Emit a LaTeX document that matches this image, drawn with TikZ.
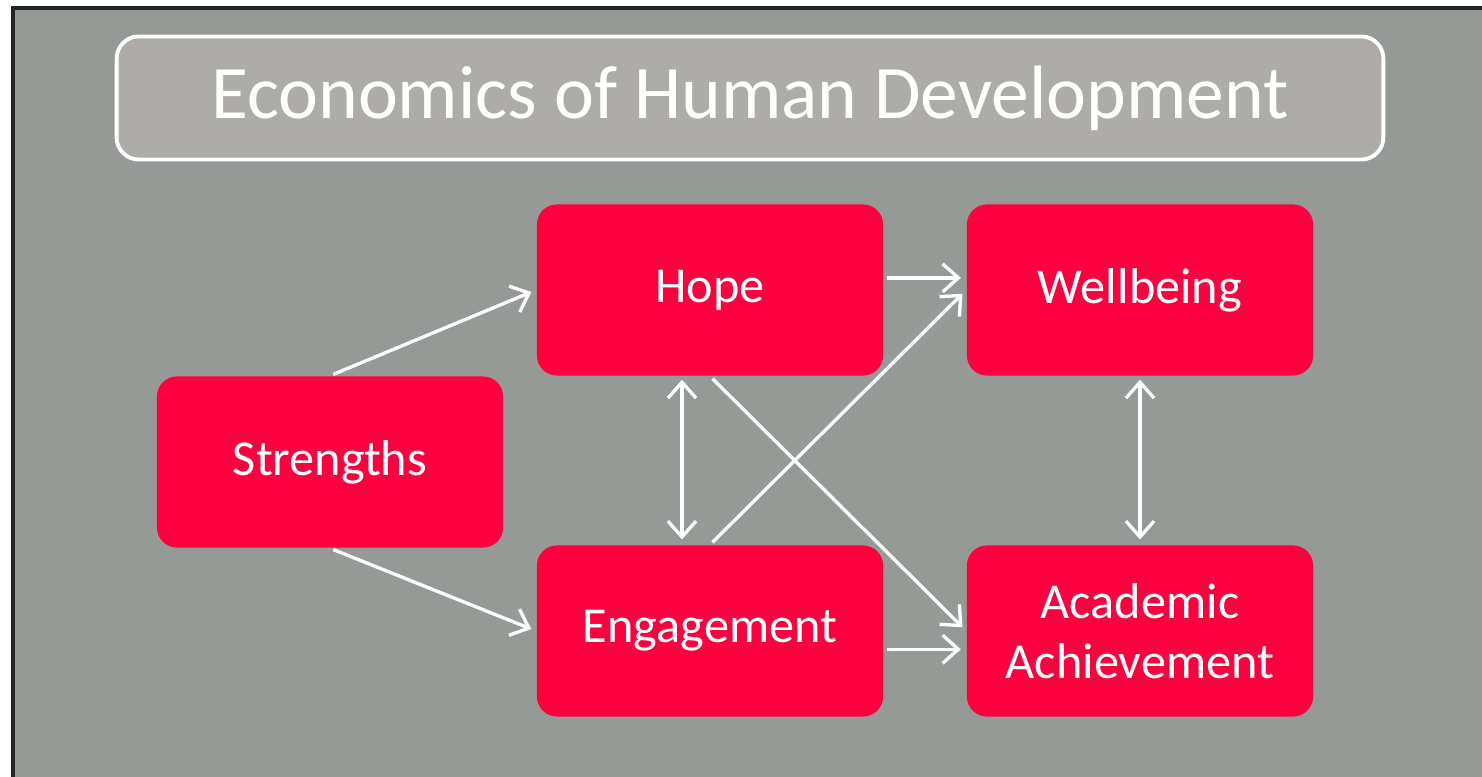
\documentclass[tikz,border=0pt]{standalone}
\usepackage{fontspec}
\setmainfont{Carlito}
\usetikzlibrary{
  arrows.meta,
  positioning
}
\usepackage{xcolor}
\definecolor{slateGray}{RGB}{150,154,151}
\definecolor{titleGray}{RGB}{174,172,168}
\definecolor{hotRed}{RGB}{255,0,62}
\definecolor{frameDark}{RGB}{35,37,36}
\tikzset{
  box/.style={
    fill=hotRed,
    draw=none,
    rounded corners=0.2cm,
    minimum width=3.46cm,
    minimum height=1.71cm,
    align=center,
    text=white,
    font=\fontsize{14.3}{17}\selectfont
  },
  link/.style={
    draw=white,
    line width=0.95pt,
    shorten >=1.5pt,
    shorten <=1pt
  }
}

\begin{document}
\begin{tikzpicture}[
      x=0.01cm, y=-0.01cm,
      >={Straight Barb[length=4.5pt,width=8pt]}
      ]

      \useasboundingbox (0,0) rectangle (1482,777);
      \fill[white] (0,0) rectangle (1482,777);
      \fill[slateGray] (13,8) rectangle (1482,777);
      \draw[frameDark, line width=1.2pt] (13,777) -- (13,8) -- (1482,8);

      \node[fill=titleGray, draw=white, line width=1.1pt, rounded corners=0.22cm,
            minimum width=12.66cm, minimum height=1.23cm, text=white,
            font=\fontsize{21.5}{25}\selectfont] (title) at (750,98) {Economics of Human Development};

      \node[box] (hope) at (710,290) {Hope};
      \node[box] (wellbeing) at (1140,290) {Wellbeing};
      \node[box] (strengths) at (330,462) {Strengths};
      \node[box] (engagement) at (710,631) {Engagement};
      \node[box] (academic) at (1140,631) {Academic\\Achievement};

      \foreach \a/\b in {strengths.north/hope.west, strengths.south/engagement.west,
                         engagement.north/wellbeing.west, hope.south/academic.west}{
        \draw[link, ->] (\a) -- (\b);
      }

      \draw[link, ->] (hope.4) -- (hope.4 -| wellbeing.west);
      \draw[link, ->] (engagement.-6) -- (engagement.-6 -| academic.west);

      \draw[link, <->] ([xshift=-0.28cm]hope.south) -- ([xshift=-0.28cm]engagement.north);
      \draw[link, <->] (wellbeing.south) -- (academic.north);
    \end{tikzpicture}
\end{document}
